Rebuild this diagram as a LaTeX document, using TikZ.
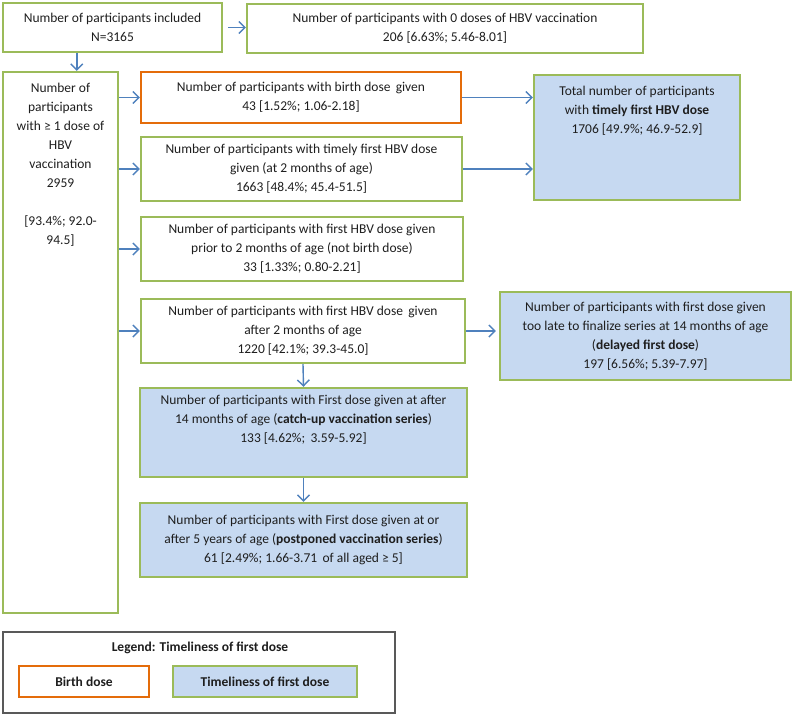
\documentclass[tikz,border=0pt]{standalone}
\usepackage{fontspec}
\setmainfont{Carlito}
\usetikzlibrary{arrows.meta, positioning}
\definecolor{boxgreen}{RGB}{155,187,89}
\definecolor{boxorange}{RGB}{228,108,10}
\definecolor{boxblue}{RGB}{198,217,241}
\definecolor{arrowblue}{RGB}{79,129,189}
\definecolor{legendgray}{RGB}{89,89,89}
\definecolor{textgray}{RGB}{30,30,30}
\begin{document}
\begin{tikzpicture}[x=1pt, y=-1pt, font=\fontsize{13.5}{19}\selectfont, text=textgray,
    box/.style={draw=boxgreen, line width=2.4pt, align=center, inner sep=0pt},
    birthbox/.style={box, draw=boxorange},
    timebox/.style={box, fill=boxblue},
    toptext/.style={align=center, inner sep=0pt, anchor=north},
    arr/.style={draw=arrowblue, line width=1.4pt, -{Straight Barb[length=6pt, width=12pt, line width=1.4pt]}}]
  \useasboundingbox (0,0) rectangle (794,715);

  % Start and the unvaccinated
  \node[box, minimum width=219pt, minimum height=49pt] (included) at (112.5,27.5)
    {Number of participants included\\N=3165};
  \node[box, minimum width=396pt, minimum height=49pt] (zero) at (445,28.5)
    {Number of participants with 0 doses of HBV vaccination\\206 [6.63\%; 5.46-8.01]};

  % At least one dose
  \node[box, minimum width=115pt, minimum height=541pt] (atleast) at (60.5,342.5) {};
  \node[toptext] (atleasttext) at ([yshift=-12pt]atleast.north)
    {Number of\\participants\\with ≥ 1 dose of\\HBV\\vaccination\\2959\\[19pt][93.4\%; 92.0-\\94.5]};

  % Branches
  \node[birthbox, minimum width=320pt, minimum height=51pt] (birth) at (301,97.5)
    {Number of participants with birth dose\, given\\43 [1.52\%; 1.06-2.18]};
  \node[box, minimum width=321pt, minimum height=64pt] (timely) at (301.5,169)
    {Number of participants with timely first HBV dose\\given (at 2 months of age)\\1663 [48.4\%; 45.4-51.5]};
  \node[box, minimum width=322pt, minimum height=64pt] (prior) at (302,249)
    {Number of participants with first HBV dose given\\prior to 2 months of age (not birth dose)\\33 [1.33\%; 0.80-2.21]};
  \node[box, minimum width=324pt, minimum height=64pt] (after) at (303,331)
    {Number of participants with first HBV dose\, given\\after 2 months of age\\1220 [42.1\%; 39.3-45.0]};

  % Timeliness outcomes
  \node[timebox, minimum width=206pt, minimum height=125pt] (total) at (637,137.5) {};
  \node[toptext] (totaltext) at ([yshift=-12pt]total.north)
    {Total number of participants\\with \textbf{timely first HBV dose}\\1706 [49.9\%; 46.9-52.9]};
  \node[timebox, minimum width=291pt, minimum height=88pt] (delayed) at (645.5,336)
    {Number of participants with first dose given\\too late to finalize series at 14 months of age\\(\textbf{delayed first dose})\\197 [6.56\%; 5.39-7.97]};
  \node[timebox, minimum width=327pt, minimum height=89pt] (catchup) at (303.5,432.5) {};
  \node[toptext] (catchuptext) at ([yshift=-8pt]catchup.north)
    {Number of participants with First dose given at after\\14 months of age (\textbf{catch-up vaccination series})\\133 [4.62\%;\, 3.59-5.92]};
  \node[timebox, minimum width=327pt, minimum height=74pt] (postponed) at (303.5,540)
    {Number of participants with First dose given at or\\after 5 years of age (\textbf{postponed vaccination series})\\61 [2.49\%; 1.66-3.71\, of all aged ≥ 5]};

  % Arrows
  \draw[arr] ([xshift=5pt]included.east) -- (included.east -| zero.west);
  \draw[arr] ([xshift=75pt]included.south west) -- ([xshift=75pt]included.south west |- atleast.north);
  \foreach \n in {birth, timely, prior, after}
    \draw[arr] (\n.west -| atleast.east) -- (\n.west);
  \draw[arr] (birth.east) -- (birth.east -| total.west);
  \draw[arr] (timely.east) -- (timely.east -| total.west);
  \draw[arr, shorten >=3pt] (after.east) -- (after.east -| delayed.west);
  \draw[arr] (after.south) -- (catchup.north);
  \draw[arr] (catchup.south) -- (postponed.north);

  % Legend
  \node[draw=legendgray, line width=1.2pt, minimum width=392pt, minimum height=81pt] (legend) at (199,672.5) {};
  \node (legendtitle) at (200,648) {\textbf{Legend: Timeliness of first dose}};
  \node[birthbox, minimum width=130pt, minimum height=31pt] (legbirth) at (84,681.5) {\textbf{Birth dose}};
  \node[timebox, minimum width=184pt, minimum height=31pt] (legtime) at (265,681.5) {\textbf{Timeliness of first dose}};
\end{tikzpicture}
\end{document}
